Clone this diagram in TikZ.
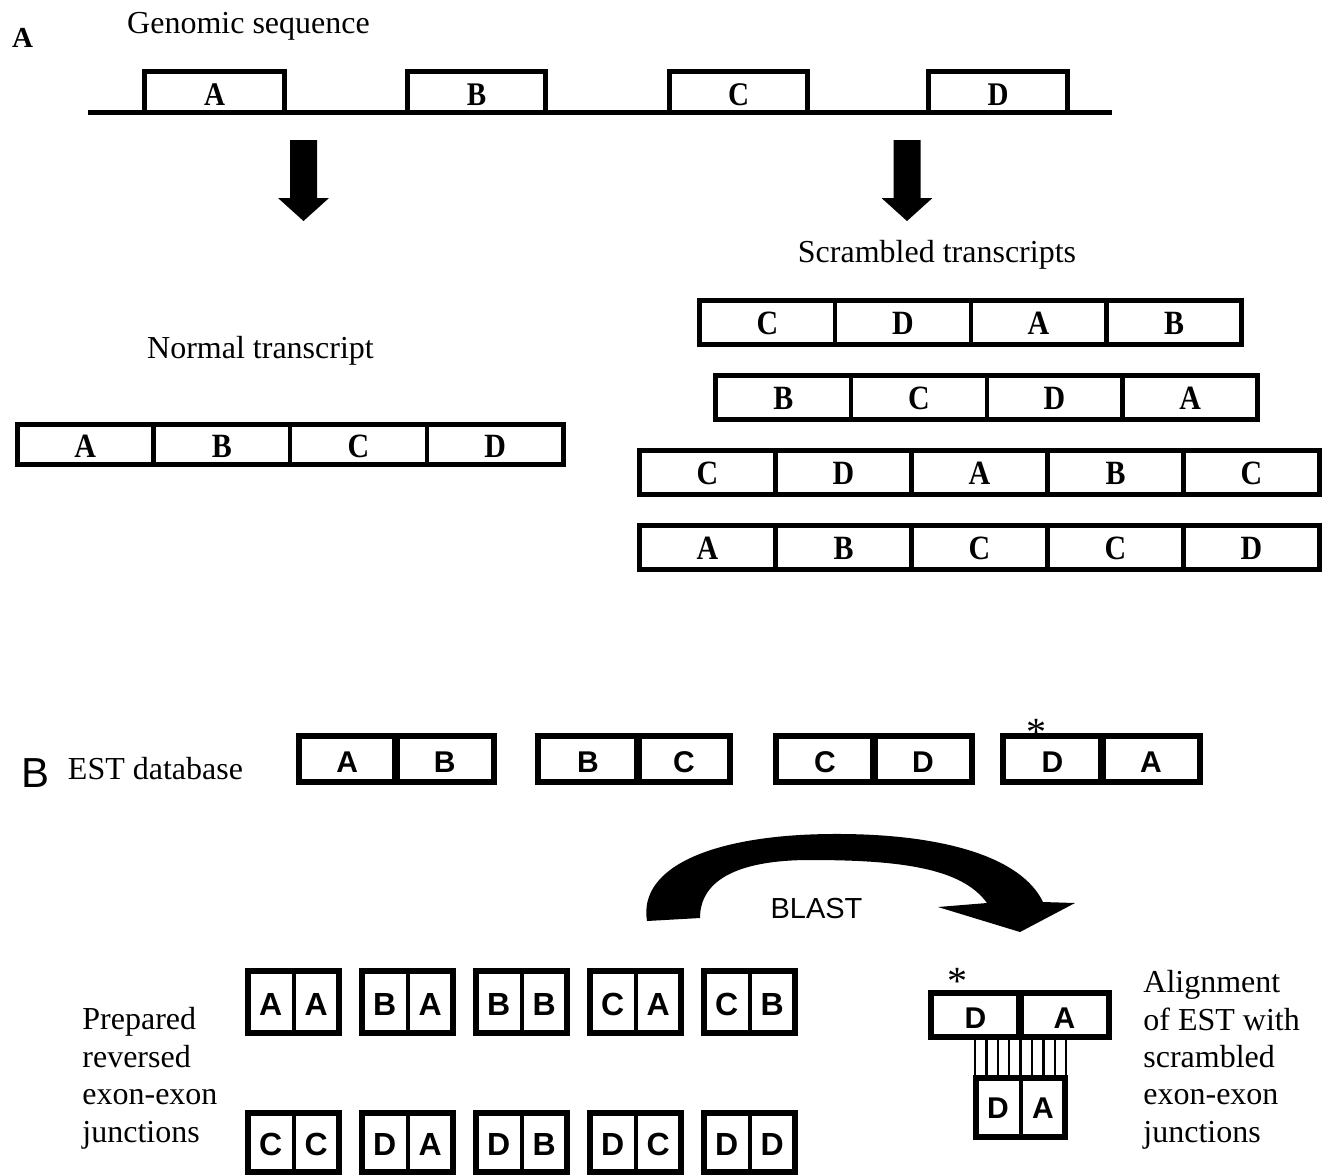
\documentclass[tikz,border=0pt]{standalone}
\usepackage{fontspec}
\setmainfont{Liberation Serif}
\setsansfont{Liberation Sans}
\newfontfamily\exfont[FakeStretch=0.88]{Liberation Serif}
\newcommand\exrow[7]{% #1 prefix, #2 x0, #3 ytop, #4 cell width, #5 height, #6 cells, #7 labels
  \pgfmathtruncatemacro\nmcells{#6-1}%
  \foreach \k in {1,...,\nmcells}{\draw[divA] ({#2+\k*#4},#3) -- ({#2+\k*#4},{#3+#5});}
  \draw[frameA] (#2,#3) rectangle ({#2+#6*#4},{#3+#5});
  \foreach \l [count=\i from 0] in {#7}{\node[exonL] (#1\i) at ({#2+(\i+0.5)*#4},{#3+#5/2+12.5}) {\l};}
}
\newcommand\estpair[7]{% #1 name, #2 L, #3 div, #4 R, #5 top, #6 lab1, #7 lab2
  \draw[divB] (#3,#5) -- (#3,{#5+46});
  \draw[frameB] (#2,#5) rectangle (#4,{#5+46});
  \node[sansL] (#1a) at ({(#2+#3)/2},{#5+23+13}) {#6};
  \node[sansL] (#1b) at ({(#3+#4)/2},{#5+23+13}) {#7};
}
\newcommand\jpair[5]{% #1 name, #2 L, #3 top, #4 lab1, #5 lab2
  \draw[divS] ({#2+45.5},#3) -- ({#2+45.5},{#3+\jh});
  \draw[frameB] (#2,#3) rectangle ({#2+91},{#3+\jh});
  \node[jL] (#1a) at ({#2+22.75},{#3+\jh/2+13}) {#4};
  \node[jL] (#1b) at ({#2+68.25},{#3+\jh/2+13}) {#5};
}
\begin{document}
\begin{tikzpicture}[x=0.5pt,y=-0.5pt,
  frameA/.style={line width=2.5pt},
  divA/.style={line width=2.2pt},
  frameB/.style={line width=3pt},
  divB/.style={line width=4pt},
  divS/.style={line width=2pt},
  serifL/.style={font=\fontsize{16}{19}\selectfont, inner sep=0pt, anchor=base},
  serifW/.style={font=\fontsize{16}{19}\selectfont, inner sep=0pt, anchor=base west},
  exonL/.style={font=\exfont\bfseries\fontsize{17}{19}\selectfont, inner sep=0pt, anchor=base},
  gexonL/.style={font=\exfont\bfseries\fontsize{16.5}{18}\selectfont, inner sep=0pt, anchor=base},
  sansL/.style={font=\sffamily\bfseries\fontsize{15}{17}\selectfont, inner sep=0pt, anchor=base},
  jL/.style={font=\sffamily\bfseries\fontsize{16}{18}\selectfont, inner sep=0pt, anchor=base},
  astL/.style={font=\fontsize{20}{20}\selectfont, inner sep=0pt, anchor=base},
  fatarrow/.style={fill=black}
]
\useasboundingbox (0,0) rectangle (1330,1175);

% ---------- Panel A ----------
\node[font=\bfseries\fontsize{14.5}{16}\selectfont, inner sep=0pt, anchor=base] (panelA) at (22.5,47) {A};
\node[serifL] (genomic) at (248.5,33) {Genomic sequence};

\draw[frameA] (88,112.5) -- (1112,112.5);
\foreach \nm/\L/\R in {A/144.5/284.5, B/407.5/545.5, C/669.5/807.5, D/928.5/1067.5}{
  \draw[frameA, line join=miter] (\L,112.5) -- (\L,71) -- (\R,71) -- (\R,112.5);
  \node[gexonL] (g\nm) at ({(\L+\R)/2},105) {\nm};
}

% fat arrows
\foreach \cx in {303.5,907}{
  \fill[fatarrow] ({\cx-13.5},140) -- ({\cx+13.5},140) -- ({\cx+13.5},198) -- ({\cx+25.5},198)
     -- (\cx,221) -- ({\cx-25.5},198) -- ({\cx-13.5},198) -- cycle;
}

\node[serifL] (normal) at (260.5,358) {Normal transcript};
\node[serifL] (scrambled) at (937,262) {Scrambled transcripts};

\exrow{nt}{17}{424.5}{136.6}{40}{4}{A,B,C,D}
\exrow{sa}{699.5}{300}{135.6}{44}{4}{C,D,A,B}
\exrow{sb}{715.5}{375}{135.6}{44}{4}{B,C,D,A}
\exrow{sc}{639.5}{450}{136}{44}{5}{C,D,A,B,C}
\exrow{sd}{639.5}{525}{136}{44}{5}{A,B,C,C,D}

% ---------- Panel B ----------
\node[font=\sffamily\fontsize{21}{24}\selectfont, inner sep=0pt, anchor=base] (panelB) at (36,787) {B};
\node[serifL] (estdb) at (155.5,779) {EST database};

\estpair{e1}{298.5}{396}{493.5}{736}{A}{B}
\estpair{e2}{538}{638}{730}{736}{B}{C}
\estpair{e3}{776}{874}{972}{736}{C}{D}
\estpair{e4}{1003}{1102}{1200}{736}{D}{A}
\node[astL] (ast1) at (1036,745) {*};

% BLAST curved arrow
\fill[fatarrow] (647,921) .. controls (638,866) and (715,835) .. (830,834)
   .. controls (945,833) and (1022,858) .. (1043,902)
   -- (1075,903) -- (1020,932) -- (938,907) -- (987,903)
   .. controls (962,868) and (900,860) .. (810,860)
   .. controls (742,860) and (700,878) .. (700,918) -- cycle;
\node[font=\sffamily\fontsize{14.5}{16}\selectfont, inner sep=0pt, anchor=base] (blast) at (816.5,918) {BLAST};

% prepared junctions
\node[serifW] (prep1) at (82,1029) {Prepared};
\node[serifW] (prep2) at (82,1067) {reversed};
\node[serifW] (prep3) at (82,1104) {exon-exon};
\node[serifW] (prep4) at (82,1142) {junctions};

\def\jh{62}
\jpair{j1}{248}{971}{A}{A}
\jpair{j2}{362}{971}{B}{A}
\jpair{j3}{476}{971}{B}{B}
\jpair{j4}{590}{971}{C}{A}
\jpair{j5}{704}{971}{C}{B}
\def\jh{59}
\jpair{k1}{248}{1113}{C}{C}
\jpair{k2}{362}{1113}{D}{A}
\jpair{k3}{476}{1113}{D}{B}
\jpair{k4}{590}{1113}{D}{C}
\jpair{k5}{704}{1113}{D}{D}

% alignment
\draw[divB] (1020,993) -- (1020,1037);
\draw[frameB] (931,993) rectangle (1109,1037);
\node[sansL] (alD) at (975.5,1028) {D};
\node[sansL] (alA) at (1064.5,1028) {A};
\node[astL] (ast2) at (957,994) {*};
\foreach \i in {0,...,8}{
  \draw[line width=1.25pt] ({975+\i*11.4},1039) -- ({975+\i*11.4},1077);
}
\draw[divS] (1020.5,1078) -- (1020.5,1137);
\draw[frameB] (976,1078) rectangle (1065,1137);
\node[sansL] (aD) at (998,1118) {D};
\node[sansL] (aA) at (1043,1118) {A};

\node[serifW] (al1) at (1143,992) {Alignment};
\node[serifW] (al2) at (1143,1030) {of EST with};
\node[serifW] (al3) at (1143,1067) {scrambled};
\node[serifW] (al4) at (1143,1104) {exon-exon};
\node[serifW] (al5) at (1143,1142) {junctions};
\end{tikzpicture}
\end{document}
